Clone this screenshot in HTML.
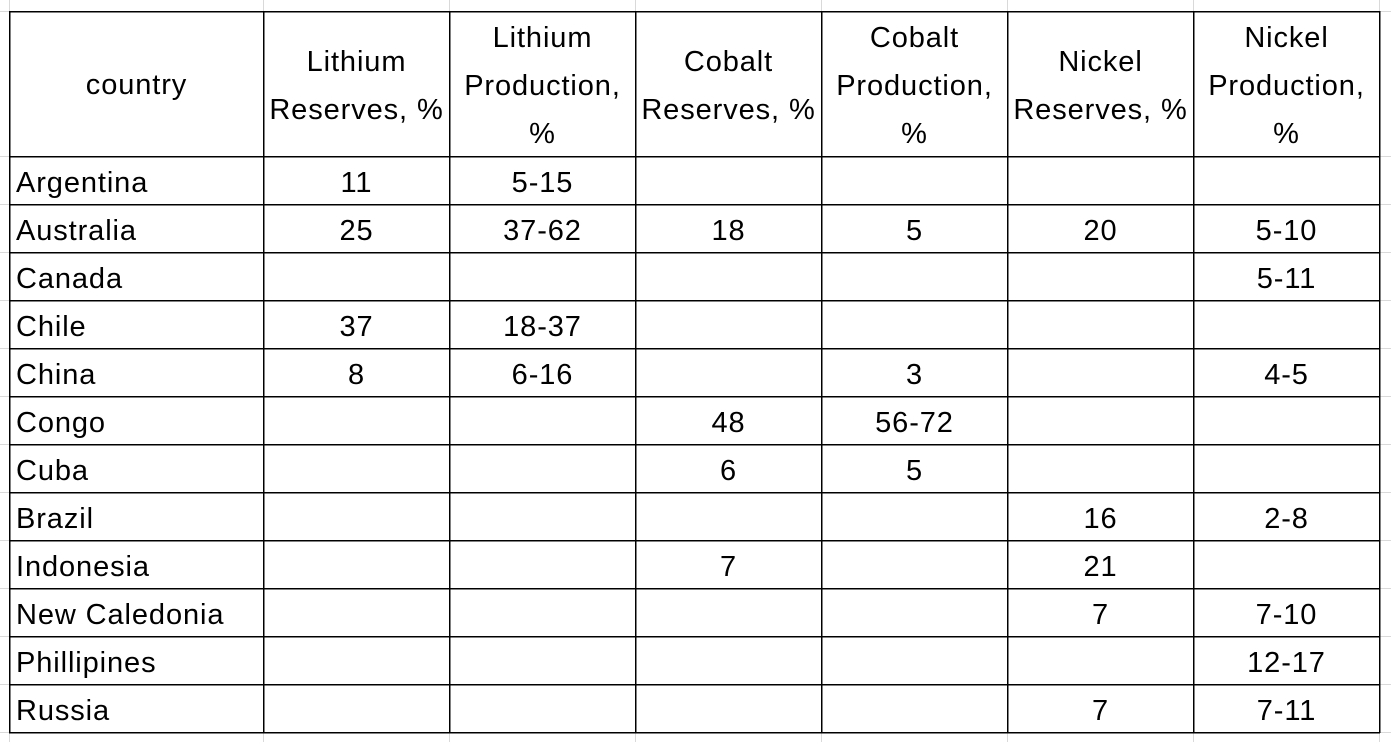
<!DOCTYPE html>
<html>
<head>
<meta charset="utf-8">
<style>
  html,body{margin:0;padding:0;background:#fff;}
  body{width:1391px;height:742px;position:relative;overflow:hidden;
       font-family:"Liberation Sans",Arial,sans-serif;font-size:29px;letter-spacing:0.9px;color:#000;}
  svg{position:absolute;left:0;top:0;}
  .c{position:absolute;height:48px;line-height:48px;white-space:nowrap;text-align:center;}
  .l{position:absolute;height:48px;line-height:48px;white-space:nowrap;left:16px;}
</style>
</head>
<body>
<svg width="1391" height="742" viewBox="0 0 1391 742">
  <g fill="#d9d9d9">
    <rect x="263" y="0" width="1" height="742"/>
    <rect x="449" y="0" width="1" height="742"/>
    <rect x="635" y="0" width="1" height="742"/>
    <rect x="821" y="0" width="1" height="742"/>
    <rect x="1007" y="0" width="1" height="742"/>
    <rect x="1193" y="0" width="1" height="742"/>
    <rect x="1379" y="0" width="1" height="742"/>
    <rect x="9" y="0" width="1" height="742"/>
    <rect x="0" y="11" width="1391" height="1"/>
    <rect x="0" y="156" width="1391" height="1"/>
    <rect x="0" y="204" width="1391" height="1"/>
    <rect x="0" y="252" width="1391" height="1"/>
    <rect x="0" y="300" width="1391" height="1"/>
    <rect x="0" y="348" width="1391" height="1"/>
    <rect x="0" y="396" width="1391" height="1"/>
    <rect x="0" y="444" width="1391" height="1"/>
    <rect x="0" y="492" width="1391" height="1"/>
    <rect x="0" y="540" width="1391" height="1"/>
    <rect x="0" y="588" width="1391" height="1"/>
    <rect x="0" y="636" width="1391" height="1"/>
    <rect x="0" y="684" width="1391" height="1"/>
    <rect x="0" y="732" width="1391" height="1"/>
  </g>
  <g fill="#000">
    <rect x="9" y="11" width="1.5" height="722"/>
    <rect x="263" y="11" width="1.5" height="722"/>
    <rect x="449" y="11" width="1.5" height="722"/>
    <rect x="635" y="11" width="1.5" height="722"/>
    <rect x="821" y="11" width="1.5" height="722"/>
    <rect x="1007" y="11" width="1.5" height="722"/>
    <rect x="1193" y="11" width="1.5" height="722"/>
    <rect x="1379" y="11" width="1.5" height="722"/>
    <rect x="9" y="11" width="1371" height="1.5"/>
    <rect x="9" y="156" width="1371" height="1.5"/>
    <rect x="9" y="204" width="1371" height="1.5"/>
    <rect x="9" y="252" width="1371" height="1.5"/>
    <rect x="9" y="300" width="1371" height="1.5"/>
    <rect x="9" y="348" width="1371" height="1.5"/>
    <rect x="9" y="396" width="1371" height="1.5"/>
    <rect x="9" y="444" width="1371" height="1.5"/>
    <rect x="9" y="492" width="1371" height="1.5"/>
    <rect x="9" y="540" width="1371" height="1.5"/>
    <rect x="9" y="588" width="1371" height="1.5"/>
    <rect x="9" y="636" width="1371" height="1.5"/>
    <rect x="9" y="684" width="1371" height="1.5"/>
    <rect x="9" y="732" width="1371" height="1.5"/>
  </g>
</svg>

<!-- Header -->
<div class="c" style="left:10px;width:253px;top:61px;">country</div>
<div class="c" style="left:264px;width:185px;top:38px;">Lithium</div>
<div class="c" style="left:264px;width:185px;top:86px;">Reserves, %</div>
<div class="c" style="left:450px;width:185px;top:14px;">Lithium</div>
<div class="c" style="left:450px;width:185px;top:62px;">Production,</div>
<div class="c" style="left:450px;width:185px;top:110px;">%</div>
<div class="c" style="left:636px;width:185px;top:38px;">Cobalt</div>
<div class="c" style="left:636px;width:185px;top:86px;">Reserves, %</div>
<div class="c" style="left:822px;width:185px;top:14px;">Cobalt</div>
<div class="c" style="left:822px;width:185px;top:62px;">Production,</div>
<div class="c" style="left:822px;width:185px;top:110px;">%</div>
<div class="c" style="left:1008px;width:185px;top:38px;">Nickel</div>
<div class="c" style="left:1008px;width:185px;top:86px;">Reserves, %</div>
<div class="c" style="left:1194px;width:185px;top:14px;">Nickel</div>
<div class="c" style="left:1194px;width:185px;top:62px;">Production,</div>
<div class="c" style="left:1194px;width:185px;top:110px;">%</div>

<!-- Rows -->
<div class="l" style="top:159px;">Argentina</div>
<div class="c" style="left:264px;width:185px;top:159px;">11</div>
<div class="c" style="left:450px;width:185px;top:159px;">5-15</div>

<div class="l" style="top:207px;">Australia</div>
<div class="c" style="left:264px;width:185px;top:207px;">25</div>
<div class="c" style="left:450px;width:185px;top:207px;">37-62</div>
<div class="c" style="left:636px;width:185px;top:207px;">18</div>
<div class="c" style="left:822px;width:185px;top:207px;">5</div>
<div class="c" style="left:1008px;width:185px;top:207px;">20</div>
<div class="c" style="left:1194px;width:185px;top:207px;">5-10</div>

<div class="l" style="top:255px;">Canada</div>
<div class="c" style="left:1194px;width:185px;top:255px;">5-11</div>

<div class="l" style="top:303px;">Chile</div>
<div class="c" style="left:264px;width:185px;top:303px;">37</div>
<div class="c" style="left:450px;width:185px;top:303px;">18-37</div>

<div class="l" style="top:351px;">China</div>
<div class="c" style="left:264px;width:185px;top:351px;">8</div>
<div class="c" style="left:450px;width:185px;top:351px;">6-16</div>
<div class="c" style="left:822px;width:185px;top:351px;">3</div>
<div class="c" style="left:1194px;width:185px;top:351px;">4-5</div>

<div class="l" style="top:399px;">Congo</div>
<div class="c" style="left:636px;width:185px;top:399px;">48</div>
<div class="c" style="left:822px;width:185px;top:399px;">56-72</div>

<div class="l" style="top:447px;">Cuba</div>
<div class="c" style="left:636px;width:185px;top:447px;">6</div>
<div class="c" style="left:822px;width:185px;top:447px;">5</div>

<div class="l" style="top:495px;">Brazil</div>
<div class="c" style="left:1008px;width:185px;top:495px;">16</div>
<div class="c" style="left:1194px;width:185px;top:495px;">2-8</div>

<div class="l" style="top:543px;">Indonesia</div>
<div class="c" style="left:636px;width:185px;top:543px;">7</div>
<div class="c" style="left:1008px;width:185px;top:543px;">21</div>

<div class="l" style="top:591px;">New Caledonia</div>
<div class="c" style="left:1008px;width:185px;top:591px;">7</div>
<div class="c" style="left:1194px;width:185px;top:591px;">7-10</div>

<div class="l" style="top:639px;">Phillipines</div>
<div class="c" style="left:1194px;width:185px;top:639px;">12-17</div>

<div class="l" style="top:687px;">Russia</div>
<div class="c" style="left:1008px;width:185px;top:687px;">7</div>
<div class="c" style="left:1194px;width:185px;top:687px;">7-11</div>
</body>
</html>
